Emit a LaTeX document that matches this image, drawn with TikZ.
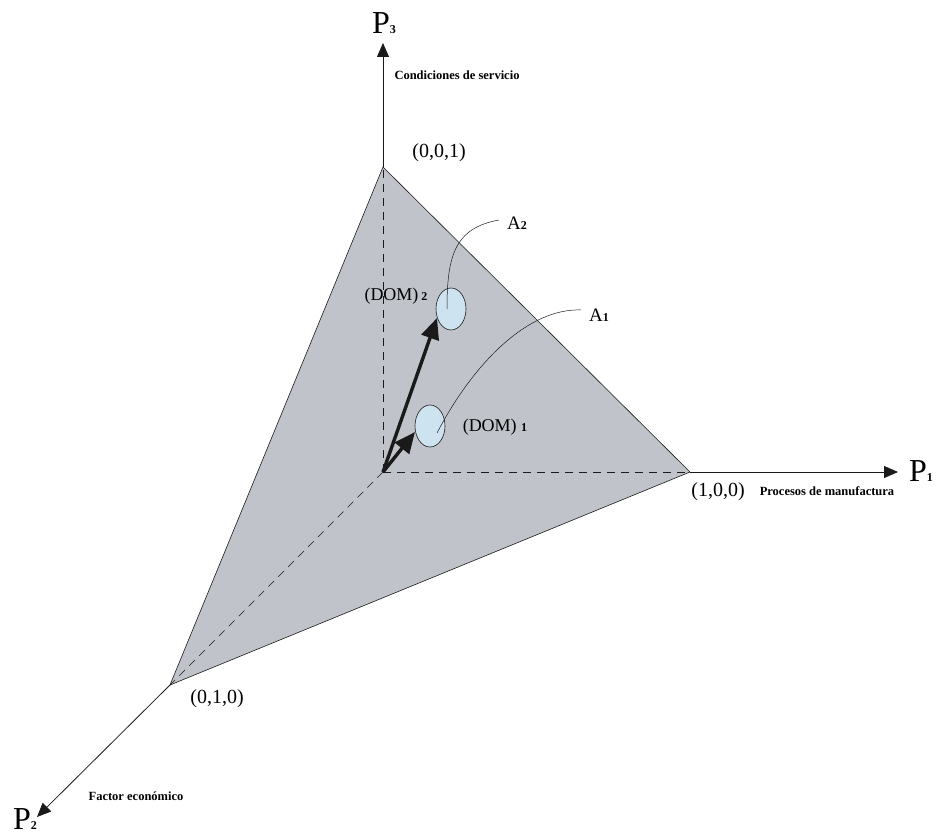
\documentclass[tikz,border=0pt]{standalone}
\usepackage{fontspec}
\setmainfont{Liberation Serif}
\usepackage{tikz}
\usetikzlibrary{positioning,shapes,arrows.meta,calc}
\definecolor{plane}{HTML}{C0C4CA}
\definecolor{domfill}{HTML}{CDE3F0}
\definecolor{dark}{HTML}{1A1A1A}
\newcommand{\idx}[1]{{\fontsize{12}{12}\selectfont\bfseries #1}}
\tikzset{
    axis/.style={-{Triangle[length=14pt,width=12pt]}, line width=0.8pt, color=dark},
    edge/.style={line width=0.6pt, color=dark},
    hidden/.style={dash pattern=on 8pt off 6pt, line width=0.7pt, color=dark},
    domblob/.style={ellipse, draw=dark, line width=0.6pt, fill=domfill, minimum width=30pt, minimum height=42pt, inner sep=0pt},
    vec/.style={-{Triangle[length=21pt,width=18pt]}, line width=3.4pt, color=dark},
    lead/.style={line width=0.5pt, color=dark},
    axlabel/.style={font=\fontsize{32}{32}\selectfont, inner sep=0pt},
    critlabel/.style={font=\fontsize{12.5}{12.5}\selectfont\bfseries, inner sep=0pt},
    vertexlabel/.style={font=\fontsize{20}{20}\selectfont, inner sep=0pt},
    domlabel/.style={font=\fontsize{18}{18}\selectfont, inner sep=0pt}
}

\begin{document}
\begin{tikzpicture}[x=1pt, y=-1pt]
\useasboundingbox (0,0) rectangle (938,837);

% vertices of the simplex
\coordinate (O) at (383,472);
\coordinate (v1) at (690,472);
\coordinate (v2) at (170,685);
\coordinate (v3) at (383,167);
\coordinate (e1) at (898,472);
\coordinate (e2) at (37,817);
\coordinate (e3) at (383,43);

\fill[plane] (v3) -- (v1) -- (v2) -- cycle;

\draw[hidden] (O) -- (v3);
\draw[hidden] (O) -- (v1);
\draw[hidden] (O) -- (v2);

\draw[edge] (v3) -- (v1) -- (v2) -- cycle;

\draw[axis] (v1) -- (e1);
\draw[axis] (v2) -- (e2);
\draw[axis] (v3) -- (e3);

\node[axlabel] (p1) at (921,471) {P\idx{1}};
\node[axlabel] (p2) at (25,819) {P\idx{2}};
\node[axlabel] (p3) at (384,23) {P\idx{3}};

\node[critlabel] (c1) at (827,491) {Procesos de manufactura};
\node[critlabel] (c2) at (136,796) {Factor económico};
\node[critlabel] (c3) at (457,75) {Condiciones de servicio};

\node[vertexlabel] (l1) at (718,492) {(1,0,0)};
\node[vertexlabel] (l2) at (217,699) {(0,1,0)};
\node[vertexlabel] (l3) at (439,153) {(0,0,1)};

% preference domains
\node[domblob] (dom1) at (430,426) {};
\node[domblob] (dom2) at (451,309) {};

\draw[vec] (O) -- (437,318);
\draw[vec] (O) -- (415,432);

\node[domlabel] (d1) at (495,427) {(DOM) \idx{1}};
\node[domlabel] (d2) at (396,296) {(DOM)\,\idx{2}};

\node[domlabel, font=\fontsize{19}{19}\selectfont] (a1) at (599,315) {A\idx{1}};
\node[domlabel, font=\fontsize{19}{19}\selectfont] (a2) at (517,223) {A\idx{2}};

\draw[lead] ([xshift=-8pt,yshift=3pt]a2.west) .. controls (455,228) and (447,255) .. ([xshift=-4pt]dom2.center);
\draw[lead] ([xshift=-8pt,yshift=5pt]a1.west) .. controls (530,308) and (475,360) .. ([xshift=7pt,yshift=-7pt]dom1.center);

\end{tikzpicture}
\end{document}
